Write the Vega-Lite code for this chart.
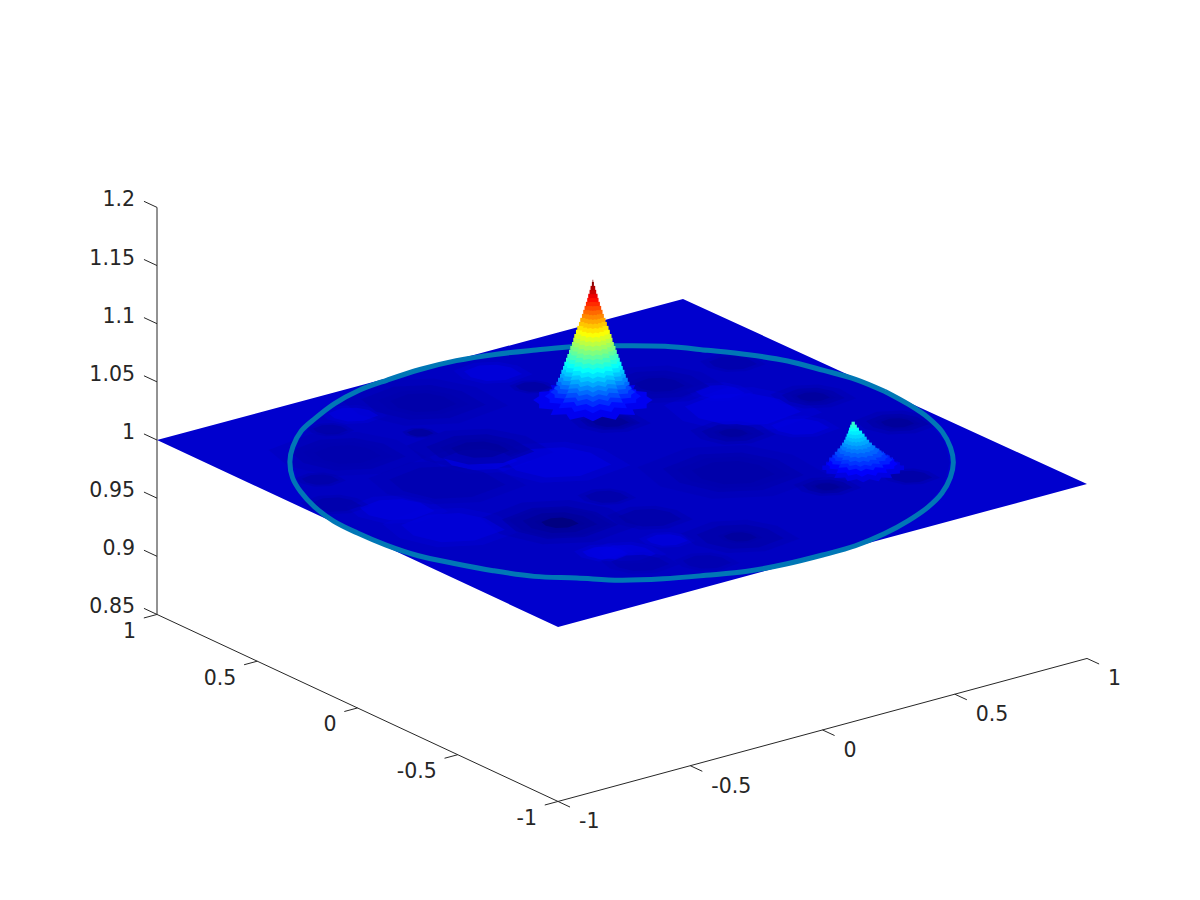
{
"$schema":"https://vega.github.io/schema/vega-lite/v6.json",
"width":1200,"height":900,"padding":0,"autosize":{"type":"fit","contains":"padding"},"background":"white",
"config":{"view":{"stroke":null}},
"datasets":{
"plane":[
{"xa":-1,"ya":1,"xb":-1,"yb":1,"z":1},
{"xa":0.525,"ya":1,"xb":-1,"yb":-1,"z":1},
{"xa":1,"ya":1,"xb":-0.527,"yb":-1,"z":1},
{"xa":1,"ya":-1,"xb":1,"yb":-1,"z":1}],
"disc":[{"x":0,"y":0,"z":0.9985,"r":0.99}],
"patches":[
{"x":0.157,"y":0.842,"z":1.0025,"r":0.07},
{"x":-0.325,"y":0.275,"z":1.0035,"r":0.09},
{"x":-0.783,"y":0.087,"z":1.0025,"r":0.09},
{"x":-0.743,"y":-0.138,"z":1.002,"r":0.125},
{"x":-0.396,"y":0.813,"z":1.0025,"r":0.06},
{"x":-0.156,"y":0.114,"z":1.0025,"r":0.13},
{"x":-0.507,"y":-0.586,"z":1.0035,"r":0.055},
{"x":0.564,"y":0.134,"z":1.003,"r":0.14},
{"x":0.602,"y":0.298,"z":1.003,"r":0.06},
{"x":0.613,"y":-0.086,"z":1.0025,"r":0.07},
{"x":-0.455,"y":-0.626,"z":1.0025,"r":0.07},
{"x":-0.292,"y":-0.611,"z":1.0025,"r":0.05},
{"x":-0.166,"y":0.766,"z":0.9955,"r":0.15},
{"x":-0.166,"y":0.766,"z":0.995,"r":0.08},
{"x":-0.617,"y":0.552,"z":0.996,"r":0.14},
{"x":-0.617,"y":0.552,"z":0.9955,"r":0.08},
{"x":-0.273,"y":0.343,"z":0.9945,"r":0.13},
{"x":-0.273,"y":0.343,"z":0.993,"r":0.07},
{"x":-0.329,"y":0.568,"z":0.9925,"r":0.032},
{"x":-0.529,"y":0.753,"z":0.9945,"r":0.042},
{"x":-0.812,"y":0.432,"z":0.9945,"r":0.045},
{"x":-0.905,"y":0.234,"z":0.995,"r":0.062},
{"x":-0.523,"y":0.179,"z":0.9955,"r":0.14},
{"x":-0.46,"y":-0.299,"z":0.9945,"r":0.14},
{"x":-0.46,"y":-0.299,"z":0.993,"r":0.09},
{"x":-0.46,"y":-0.299,"z":0.9905,"r":0.045},
{"x":0.18,"y":0.674,"z":0.9935,"r":0.042},
{"x":0.184,"y":0.295,"z":0.9945,"r":0.072},
{"x":0.184,"y":0.295,"z":0.992,"r":0.045},
{"x":-0.213,"y":-0.208,"z":0.9945,"r":0.052},
{"x":0.495,"y":0.456,"z":0.9955,"r":0.12},
{"x":0.495,"y":0.456,"z":0.994,"r":0.06},
{"x":0.8,"y":0.094,"z":0.995,"r":0.076},
{"x":0.8,"y":0.094,"z":0.993,"r":0.04},
{"x":0.866,"y":-0.237,"z":0.9945,"r":0.076},
{"x":0.866,"y":-0.237,"z":0.9925,"r":0.04},
{"x":0.421,"y":-0.005,"z":0.9945,"r":0.076},
{"x":0.421,"y":-0.005,"z":0.993,"r":0.035},
{"x":0.214,"y":-0.276,"z":0.9955,"r":0.17},
{"x":0.214,"y":-0.276,"z":0.995,"r":0.1},
{"x":0.367,"y":-0.543,"z":0.994,"r":0.06},
{"x":0.367,"y":-0.543,"z":0.9925,"r":0.03},
{"x":0.617,"y":-0.628,"z":0.994,"r":0.052},
{"x":-0.101,"y":-0.724,"z":0.995,"r":0.105},
{"x":-0.101,"y":-0.724,"z":0.993,"r":0.04},
{"x":-0.219,"y":-0.43,"z":0.9945,"r":0.076},
{"x":-0.31,"y":-0.833,"z":0.9955,"r":0.058},
{"x":-0.475,"y":-0.718,"z":0.9955,"r":0.07},
{"x":0.784,"y":0.471,"z":0.995,"r":0.058}],
"ring":[
{"a":0,"x":1,"y":0,"z":1},{"a":7.5,"x":0.991,"y":0.131,"z":1.0004},{"a":15,"x":0.966,"y":0.259,"z":0.9996},{"a":22.5,"x":0.924,"y":0.383,"z":1.0004},
{"a":30,"x":0.866,"y":0.5,"z":1},{"a":37.5,"x":0.793,"y":0.609,"z":0.9996},{"a":45,"x":0.707,"y":0.707,"z":1.0004},{"a":52.5,"x":0.609,"y":0.793,"z":1},
{"a":60,"x":0.5,"y":0.866,"z":1.0004},{"a":67.5,"x":0.383,"y":0.924,"z":0.9996},{"a":75,"x":0.259,"y":0.966,"z":1},{"a":82.5,"x":0.131,"y":0.991,"z":1.0004},
{"a":90,"x":0,"y":1,"z":1},{"a":97.5,"x":-0.131,"y":0.991,"z":0.9996},{"a":105,"x":-0.259,"y":0.966,"z":1.0004},{"a":112.5,"x":-0.383,"y":0.924,"z":1},
{"a":120,"x":-0.5,"y":0.866,"z":0.9992},{"a":127.5,"x":-0.609,"y":0.793,"z":1.0008},{"a":135,"x":-0.707,"y":0.707,"z":1},{"a":142.5,"x":-0.793,"y":0.609,"z":1.0004},
{"a":150,"x":-0.866,"y":0.5,"z":0.9996},{"a":157.5,"x":-0.924,"y":0.383,"z":1.0004},{"a":165,"x":-0.966,"y":0.259,"z":1},{"a":172.5,"x":-0.991,"y":0.131,"z":0.9996},
{"a":180,"x":-1,"y":0,"z":1.0004},{"a":187.5,"x":-0.991,"y":-0.131,"z":1},{"a":195,"x":-0.966,"y":-0.259,"z":0.9996},{"a":202.5,"x":-0.924,"y":-0.383,"z":1.0004},
{"a":210,"x":-0.866,"y":-0.5,"z":1},{"a":217.5,"x":-0.793,"y":-0.609,"z":0.9994},{"a":225,"x":-0.707,"y":-0.707,"z":1.0006},{"a":232.5,"x":-0.609,"y":-0.793,"z":0.9996},
{"a":240,"x":-0.5,"y":-0.866,"z":1},{"a":247.5,"x":-0.383,"y":-0.924,"z":1.0004},{"a":255,"x":-0.259,"y":-0.966,"z":0.9996},{"a":262.5,"x":-0.131,"y":-0.991,"z":1},
{"a":270,"x":0,"y":-1,"z":1.0004},{"a":277.5,"x":0.131,"y":-0.991,"z":0.9996},{"a":285,"x":0.259,"y":-0.966,"z":1},{"a":292.5,"x":0.383,"y":-0.924,"z":1.0004},
{"a":300,"x":0.5,"y":-0.866,"z":1},{"a":307.5,"x":0.609,"y":-0.793,"z":0.9996},{"a":315,"x":0.707,"y":-0.707,"z":1.0004},{"a":322.5,"x":0.793,"y":-0.609,"z":1},
{"a":330,"x":0.866,"y":-0.5,"z":0.9996},{"a":337.5,"x":0.924,"y":-0.383,"z":1.0004},{"a":345,"x":0.966,"y":-0.259,"z":1},{"a":352.5,"x":0.991,"y":-0.131,"z":0.9996},
{"a":360,"x":1,"y":0,"z":1}],
"peaks":[
{"x":0.23,"y":0.442,"z":1.0043,"r":0.18},{"x":0.23,"y":0.442,"z":1.0077,"r":0.145},{"x":0.23,"y":0.442,"z":1.0112,"r":0.128},{"x":0.23,"y":0.442,"z":1.0146,"r":0.118},
{"x":0.23,"y":0.442,"z":1.0181,"r":0.11},{"x":0.23,"y":0.442,"z":1.0215,"r":0.105},{"x":0.23,"y":0.442,"z":1.0249,"r":0.099},{"x":0.23,"y":0.442,"z":1.0284,"r":0.095},
{"x":0.23,"y":0.442,"z":1.0318,"r":0.09},{"x":0.23,"y":0.442,"z":1.0353,"r":0.086},{"x":0.23,"y":0.442,"z":1.0387,"r":0.081},{"x":0.23,"y":0.442,"z":1.0421,"r":0.077},
{"x":0.23,"y":0.442,"z":1.0456,"r":0.072},{"x":0.23,"y":0.442,"z":1.049,"r":0.068},{"x":0.23,"y":0.442,"z":1.0524,"r":0.063},{"x":0.23,"y":0.442,"z":1.0559,"r":0.059},
{"x":0.23,"y":0.442,"z":1.0593,"r":0.056},{"x":0.23,"y":0.442,"z":1.0628,"r":0.051},{"x":0.23,"y":0.442,"z":1.0662,"r":0.047},{"x":0.23,"y":0.442,"z":1.0696,"r":0.042},
{"x":0.23,"y":0.442,"z":1.0731,"r":0.038},{"x":0.23,"y":0.442,"z":1.0765,"r":0.033},{"x":0.23,"y":0.442,"z":1.08,"r":0.029},{"x":0.23,"y":0.442,"z":1.0834,"r":0.025},
{"x":0.23,"y":0.442,"z":1.0869,"r":0.021},{"x":0.23,"y":0.442,"z":1.0903,"r":0.017},{"x":0.23,"y":0.442,"z":1.0938,"r":0.014},{"x":0.23,"y":0.442,"z":1.0972,"r":0.01},
{"x":0.23,"y":0.442,"z":1.1006,"r":0.007},{"x":0.23,"y":0.442,"z":1.104,"r":0.003},{"x":0.23,"y":0.442,"z":1.1058,"r":0.001},
{"x":0.535,"y":-0.5,"z":1.0026,"r":0.123},{"x":0.532,"y":-0.498,"z":1.006,"r":0.108},{"x":0.53,"y":-0.496,"z":1.0095,"r":0.096},{"x":0.528,"y":-0.495,"z":1.012,"r":0.084},
{"x":0.526,"y":-0.493,"z":1.0146,"r":0.074},{"x":0.524,"y":-0.491,"z":1.0172,"r":0.063},{"x":0.522,"y":-0.49,"z":1.0198,"r":0.053},{"x":0.52,"y":-0.489,"z":1.0224,"r":0.045},
{"x":0.519,"y":-0.488,"z":1.0249,"r":0.038},{"x":0.518,"y":-0.487,"z":1.0275,"r":0.032},{"x":0.517,"y":-0.486,"z":1.0301,"r":0.027},{"x":0.516,"y":-0.485,"z":1.0327,"r":0.021},
{"x":0.513,"y":-0.483,"z":1.0353,"r":0.015},{"x":0.512,"y":-0.482,"z":1.0378,"r":0.01},{"x":0.511,"y":-0.482,"z":1.0404,"r":0.005}],
"axes":[
{"x":-1,"y":-1,"z":0.85,"xe":1,"ye":-1,"ze":0.85},{"x":-1,"y":-1,"z":0.85,"xe":-1,"ye":1,"ze":0.85},{"x":-1,"y":1,"z":0.85,"xe":-1,"ye":1,"ze":1.2},
{"x":-1,"y":-1,"z":0.85,"xe":-1,"ye":-1.06,"ze":0.85},{"x":-0.5,"y":-1,"z":0.85,"xe":-0.5,"ye":-1.06,"ze":0.85},{"x":0,"y":-1,"z":0.85,"xe":0,"ye":-1.06,"ze":0.85},{"x":0.5,"y":-1,"z":0.85,"xe":0.5,"ye":-1.06,"ze":0.85},{"x":1,"y":-1,"z":0.85,"xe":1,"ye":-1.06,"ze":0.85},
{"x":-1,"y":-1,"z":0.85,"xe":-1.05,"ye":-1,"ze":0.85},{"x":-1,"y":-0.5,"z":0.85,"xe":-1.05,"ye":-0.5,"ze":0.85},{"x":-1,"y":0,"z":0.85,"xe":-1.05,"ye":0,"ze":0.85},{"x":-1,"y":0.5,"z":0.85,"xe":-1.05,"ye":0.5,"ze":0.85},{"x":-1,"y":1,"z":0.85,"xe":-1.05,"ye":1,"ze":0.85},
{"x":-1,"y":1,"z":0.85,"xe":-1,"ye":1.065,"ze":0.85},{"x":-1,"y":1,"z":0.9,"xe":-1,"ye":1.065,"ze":0.9},{"x":-1,"y":1,"z":0.95,"xe":-1,"ye":1.065,"ze":0.95},{"x":-1,"y":1,"z":1,"xe":-1,"ye":1.065,"ze":1},{"x":-1,"y":1,"z":1.05,"xe":-1,"ye":1.065,"ze":1.05},{"x":-1,"y":1,"z":1.1,"xe":-1,"ye":1.065,"ze":1.1},{"x":-1,"y":1,"z":1.15,"xe":-1,"ye":1.065,"ze":1.15},{"x":-1,"y":1,"z":1.2,"xe":-1,"ye":1.065,"ze":1.2}],
"ticks":[
{"axis":"x","x":-1,"y":-1,"z":0.85,"label":"-1"},{"axis":"x","x":-0.5,"y":-1,"z":0.85,"label":"-0.5"},{"axis":"x","x":0,"y":-1,"z":0.85,"label":"0"},{"axis":"x","x":0.5,"y":-1,"z":0.85,"label":"0.5"},{"axis":"x","x":1,"y":-1,"z":0.85,"label":"1"},
{"axis":"y","x":-1,"y":-1,"z":0.85,"label":"-1"},{"axis":"y","x":-1,"y":-0.5,"z":0.85,"label":"-0.5"},{"axis":"y","x":-1,"y":0,"z":0.85,"label":"0"},{"axis":"y","x":-1,"y":0.5,"z":0.85,"label":"0.5"},{"axis":"y","x":-1,"y":1,"z":0.85,"label":"1"},
{"axis":"z","x":-1,"y":1,"z":0.85,"label":"0.85"},{"axis":"z","x":-1,"y":1,"z":0.9,"label":"0.9"},{"axis":"z","x":-1,"y":1,"z":0.95,"label":"0.95"},{"axis":"z","x":-1,"y":1,"z":1,"label":"1"},{"axis":"z","x":-1,"y":1,"z":1.05,"label":"1.05"},{"axis":"z","x":-1,"y":1,"z":1.1,"label":"1.1"},{"axis":"z","x":-1,"y":1,"z":1.15,"label":"1.15"},{"axis":"z","x":-1,"y":1,"z":1.2,"label":"1.2"}]
},
"layer":[
{"data":{"name":"plane"},
"transform":[
{"calculate":"621.25+263.75*datum.xa-201.25*datum.ya-0.75*datum.xa*datum.ya","as":"sx"},
{"calculate":"462.5-71*datum.xa-93*datum.ya+0.5*datum.xa*datum.ya-1163*(datum.z-1)","as":"sy"},
{"calculate":"462.5-71*datum.xb-93*datum.yb+0.5*datum.xb*datum.yb-1163*(datum.z-1)","as":"sy2"}],
"mark":{"type":"area","orient":"vertical","opacity":1},
"encoding":{
"x":{"field":"sx","type":"quantitative","scale":{"domain":[0,1200],"nice":false,"zero":false},"axis":null},
"y":{"field":"sy","type":"quantitative","scale":{"domain":[900,0],"nice":false,"zero":false},"axis":null},
"y2":{"field":"sy2"},
"color":{"field":"z","type":"quantitative","legend":null,"scale":{"domain":[0.99,0.992,1.00625,1.03475,1.06325,1.09175,1.106],"range":["#000064","#00008f","#0000ff","#00ffff","#ffff00","#ff0000","#800000"],"interpolate":"rgb","clamp":true}}}},
{"data":{"name":"disc"},
"transform":[
{"calculate":"621.25+263.75*datum.x-201.25*datum.y-0.75*datum.x*datum.y","as":"sx"},
{"calculate":"462.5-71*datum.x-93*datum.y+0.5*datum.x*datum.y","as":"sy"},
{"calculate":"4*pow(datum.r*332,2)","as":"s"}],
"mark":{"type":"point","filled":true,"opacity":1,"strokeWidth":0,"shape":"M1,0L.981,.069L.924,.136L.831,.197L.707,.251L.556,.295L.383,.328L.195,.348L0,.355L-.195,.348L-.383,.328L-.556,.295L-.707,.251L-.831,.197L-.924,.136L-.981,.069L-1,0L-.981,-.069L-.924,-.136L-.831,-.197L-.707,-.251L-.556,-.295L-.383,-.328L-.195,-.348L0,-.355L.195,-.348L.383,-.328L.556,-.295L.707,-.251L.831,-.197L.924,-.136L.981,-.069Z"},
"encoding":{
"x":{"field":"sx","type":"quantitative","scale":{"domain":[0,1200],"nice":false,"zero":false},"axis":null},
"y":{"field":"sy","type":"quantitative","scale":{"domain":[900,0],"nice":false,"zero":false},"axis":null},
"size":{"field":"s","type":"quantitative","scale":null,"legend":null},
"color":{"field":"z","type":"quantitative","legend":null,"scale":{"domain":[0.99,0.992,1.00625,1.03475,1.06325,1.09175,1.106],"range":["#000064","#00008f","#0000ff","#00ffff","#ffff00","#ff0000","#800000"],"interpolate":"rgb","clamp":true}}}},
{"data":{"name":"patches"},
"transform":[
{"calculate":"621.25+263.75*datum.x-201.25*datum.y-0.75*datum.x*datum.y","as":"sx"},
{"calculate":"462.5-71*datum.x-93*datum.y+0.5*datum.x*datum.y","as":"sy"},
{"calculate":"4*pow(datum.r*332*1.7,2)","as":"s"}],
"mark":{"type":"point","filled":true,"opacity":0.3,"strokeWidth":0,"shape":"M1,.03L.62,-.19L.12,-.29L-.48,-.26L-1,-.06L-.76,.14L-.22,.27L.42,.24Z"},
"encoding":{
"x":{"field":"sx","type":"quantitative","scale":{"domain":[0,1200],"nice":false,"zero":false},"axis":null},
"y":{"field":"sy","type":"quantitative","scale":{"domain":[900,0],"nice":false,"zero":false},"axis":null},
"size":{"field":"s","type":"quantitative","scale":null,"legend":null},
"color":{"field":"z","type":"quantitative","legend":null,"scale":{"domain":[0.99,0.992,1.00625,1.03475,1.06325,1.09175,1.106],"range":["#000064","#00008f","#0000ff","#00ffff","#ffff00","#ff0000","#800000"],"interpolate":"rgb","clamp":true}}}},
{"data":{"name":"patches"},
"transform":[
{"calculate":"621.25+263.75*datum.x-201.25*datum.y-0.75*datum.x*datum.y","as":"sx"},
{"calculate":"462.5-71*datum.x-93*datum.y+0.5*datum.x*datum.y","as":"sy"},
{"calculate":"4*pow(datum.r*332*1.25,2)","as":"s"}],
"mark":{"type":"point","filled":true,"opacity":0.6,"strokeWidth":0,"shape":"M1,.03L.62,-.19L.12,-.29L-.48,-.26L-1,-.06L-.76,.14L-.22,.27L.42,.24Z"},
"encoding":{
"x":{"field":"sx","type":"quantitative","scale":{"domain":[0,1200],"nice":false,"zero":false},"axis":null},
"y":{"field":"sy","type":"quantitative","scale":{"domain":[900,0],"nice":false,"zero":false},"axis":null},
"size":{"field":"s","type":"quantitative","scale":null,"legend":null},
"color":{"field":"z","type":"quantitative","legend":null,"scale":{"domain":[0.99,0.992,1.00625,1.03475,1.06325,1.09175,1.106],"range":["#000064","#00008f","#0000ff","#00ffff","#ffff00","#ff0000","#800000"],"interpolate":"rgb","clamp":true}}}},
{"data":{"name":"ring"},
"transform":[
{"calculate":"621.25+263.75*datum.x-201.25*datum.y-0.75*datum.x*datum.y","as":"sx"},
{"calculate":"462.5-71*datum.x-93*datum.y+0.5*datum.x*datum.y-1163*(datum.z-1)","as":"sy"}],
"mark":{"type":"line","color":"#0077b6","strokeWidth":5,"strokeJoin":"round","interpolate":"catmull-rom","opacity":1},
"encoding":{
"x":{"field":"sx","type":"quantitative","scale":{"domain":[0,1200],"nice":false,"zero":false},"axis":null},
"y":{"field":"sy","type":"quantitative","scale":{"domain":[900,0],"nice":false,"zero":false},"axis":null},
"order":{"field":"a","type":"quantitative"}}},
{"data":{"name":"peaks"},
"transform":[
{"filter":"datum.r<0.125"},
{"calculate":"621.25+263.75*datum.x-201.25*datum.y-0.75*datum.x*datum.y","as":"sx"},
{"calculate":"462.5-71*datum.x-93*datum.y+0.5*datum.x*datum.y-1163*(datum.z-1)","as":"sy"},
{"calculate":"datum.sx-datum.r*332","as":"sxl"},
{"calculate":"datum.sx+datum.r*332","as":"sxr"}],
"mark":{"type":"rule","strokeWidth":4.5,"opacity":1},
"encoding":{
"x":{"field":"sxl","type":"quantitative","scale":{"domain":[0,1200],"nice":false,"zero":false},"axis":null},
"x2":{"field":"sxr"},
"y":{"field":"sy","type":"quantitative","scale":{"domain":[900,0],"nice":false,"zero":false},"axis":null},
"color":{"field":"z","type":"quantitative","legend":null,"scale":{"domain":[0.99,0.992,1.00625,1.03475,1.06325,1.09175,1.106],"range":["#000064","#00008f","#0000ff","#00ffff","#ffff00","#ff0000","#800000"],"interpolate":"rgb","clamp":true}}}},
{"data":{"name":"peaks"},
"transform":[
{"calculate":"621.25+263.75*datum.x-201.25*datum.y-0.75*datum.x*datum.y","as":"sx"},
{"calculate":"462.5-71*datum.x-93*datum.y+0.5*datum.x*datum.y-1163*(datum.z-1)","as":"sy"},
{"calculate":"4*pow(datum.r*332,2)","as":"s"}],
"mark":{"type":"point","filled":true,"opacity":1,"strokeWidth":0,"shape":"M1,0L.9,.065L.9,.136L.665,.158L.707,.251L.444,.236L.383,.328L.156,.279L0,.355L-.156,.279L-.383,.328L-.444,.236L-.707,.251L-.665,.158L-.9,.136L-.9,.065L-1,0L-.9,-.065L-.9,-.136L-.665,-.158L-.707,-.251L-.444,-.236L-.383,-.328L-.156,-.279L0,-.355L.156,-.279L.383,-.328L.444,-.236L.707,-.251L.665,-.158L.9,-.136L.9,-.065Z"},
"encoding":{
"x":{"field":"sx","type":"quantitative","scale":{"domain":[0,1200],"nice":false,"zero":false},"axis":null},
"y":{"field":"sy","type":"quantitative","scale":{"domain":[900,0],"nice":false,"zero":false},"axis":null},
"size":{"field":"s","type":"quantitative","scale":null,"legend":null},
"color":{"field":"z","type":"quantitative","legend":null,"scale":{"domain":[0.99,0.992,1.00625,1.03475,1.06325,1.09175,1.106],"range":["#000064","#00008f","#0000ff","#00ffff","#ffff00","#ff0000","#800000"],"interpolate":"rgb","clamp":true}}}},
{"data":{"name":"axes"},
"transform":[
{"calculate":"621.25+263.75*datum.x-201.25*datum.y-0.75*datum.x*datum.y","as":"sx"},
{"calculate":"462.5-71*datum.x-93*datum.y+0.5*datum.x*datum.y-1163*(datum.z-1)","as":"sy"},
{"calculate":"621.25+263.75*datum.xe-201.25*datum.ye-0.75*datum.xe*datum.ye","as":"sxe"},
{"calculate":"462.5-71*datum.xe-93*datum.ye+0.5*datum.xe*datum.ye-1163*(datum.ze-1)","as":"sye"}],
"mark":{"type":"rule","color":"#262626","strokeWidth":1,"opacity":1},
"encoding":{
"x":{"field":"sx","type":"quantitative","scale":{"domain":[0,1200],"nice":false,"zero":false},"axis":null},
"y":{"field":"sy","type":"quantitative","scale":{"domain":[900,0],"nice":false,"zero":false},"axis":null},
"x2":{"field":"sxe"},"y2":{"field":"sye"}}},
{"data":{"name":"ticks"},
"transform":[{"filter":"datum.axis==='x'"},
{"calculate":"621.25+263.75*datum.x-201.25*datum.y-0.75*datum.x*datum.y","as":"sx"},
{"calculate":"462.5-71*datum.x-93*datum.y+0.5*datum.x*datum.y-1163*(datum.z-1)","as":"sy"}],
"mark":{"type":"text","font":"DejaVu Sans","fontSize":20.5,"color":"#262626","align":"left","baseline":"middle","dx":21,"dy":21},
"encoding":{
"x":{"field":"sx","type":"quantitative","scale":{"domain":[0,1200],"nice":false,"zero":false},"axis":null},
"y":{"field":"sy","type":"quantitative","scale":{"domain":[900,0],"nice":false,"zero":false},"axis":null},
"text":{"field":"label","type":"nominal"}}},
{"data":{"name":"ticks"},
"transform":[{"filter":"datum.axis==='y'"},
{"calculate":"621.25+263.75*datum.x-201.25*datum.y-0.75*datum.x*datum.y","as":"sx"},
{"calculate":"462.5-71*datum.x-93*datum.y+0.5*datum.x*datum.y-1163*(datum.z-1)","as":"sy"}],
"mark":{"type":"text","font":"DejaVu Sans","fontSize":20.5,"color":"#262626","align":"right","baseline":"middle","dx":-21,"dy":17.5},
"encoding":{
"x":{"field":"sx","type":"quantitative","scale":{"domain":[0,1200],"nice":false,"zero":false},"axis":null},
"y":{"field":"sy","type":"quantitative","scale":{"domain":[900,0],"nice":false,"zero":false},"axis":null},
"text":{"field":"label","type":"nominal"}}},
{"data":{"name":"ticks"},
"transform":[{"filter":"datum.axis==='z'"},
{"calculate":"621.25+263.75*datum.x-201.25*datum.y-0.75*datum.x*datum.y","as":"sx"},
{"calculate":"462.5-71*datum.x-93*datum.y+0.5*datum.x*datum.y-1163*(datum.z-1)","as":"sy"}],
"mark":{"type":"text","font":"DejaVu Sans","fontSize":20.5,"color":"#262626","align":"right","baseline":"middle","dx":-22,"dy":-7},
"encoding":{
"x":{"field":"sx","type":"quantitative","scale":{"domain":[0,1200],"nice":false,"zero":false},"axis":null},
"y":{"field":"sy","type":"quantitative","scale":{"domain":[900,0],"nice":false,"zero":false},"axis":null},
"text":{"field":"label","type":"nominal"}}}
]
}
